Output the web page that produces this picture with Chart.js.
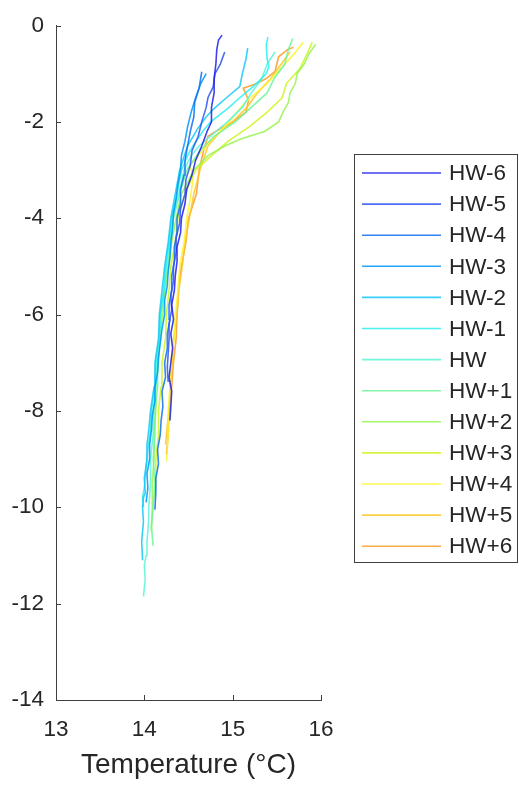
<!DOCTYPE html>
<html>
<head>
<meta charset="utf-8">
<script src="https://cdn.jsdelivr.net/npm/chart.js@4"></script>
<style>
  html, body { margin: 0; padding: 0; background: #ffffff; }
  #wrap { width: 519px; height: 785px; position: relative; }
</style>
</head>
<body>
<div id="wrap"><canvas id="grafica" width="519" height="785"></canvas></div>
<script>
// Etiquetas de las series (horas respecto a la pleamar)
const seriesLabels = ['HW-6', 'HW-5', 'HW-4', 'HW-3', 'HW-2', 'HW-1', 'HW',
  'HW+1', 'HW+2', 'HW+3', 'HW+4', 'HW+5', 'HW+6'];

// Ticks de los ejes
const xTicks = [13, 14, 15, 16];
const yTicks = [0, -2, -4, -6, -8, -10, -12, -14];

// Perfiles: profundidad (m) y temperatura (°C)
const depthHWm6 = [-8.2, -7.9, -7.6, -7.3, -7.0, -6.7, -6.4, -6.1, -5.8, -5.5, -5.2, -4.9, -4.6, -4.3, -4.0, -3.7, -3.4, -3.1, -2.8, -2.5, -2.2, -2.0, -1.7, -1.4, -1.1, -0.8, -0.5, -0.3, -0.2];
const tempHWm6  = [14.29, 14.30, 14.31, 14.28, 14.30, 14.32, 14.30, 14.33, 14.31, 14.34, 14.35, 14.37, 14.37, 14.41, 14.42, 14.46, 14.48, 14.54, 14.58, 14.65, 14.71, 14.76, 14.76, 14.79, 14.79, 14.81, 14.82, 14.84, 14.88];

const depthHWm5 = [-7.4, -7.1, -6.8, -6.5, -6.2, -5.9, -5.6, -5.3, -5.0, -4.7, -4.4, -4.1, -3.8, -3.5, -3.2, -2.9, -2.6, -2.3, -2.0, -1.7, -1.5, -1.27, -1.0, -0.8, -0.55];
const tempHWm5  = [14.27, 14.26, 14.27, 14.28, 14.28, 14.31, 14.30, 14.33, 14.33, 14.36, 14.36, 14.40, 14.41, 14.46, 14.47, 14.52, 14.54, 14.61, 14.65, 14.70, 14.72, 14.78, 14.80, 14.86, 14.91];

const depthHWm4 = [-10.05, -9.7, -9.4, -9.1, -8.8, -8.5, -8.2, -7.9, -7.6, -7.3, -7.0, -6.7, -6.4, -6.1, -5.8, -5.5, -5.2, -4.9, -4.6, -4.3, -4.0, -3.7, -3.4, -3.1, -2.8, -2.5, -2.2, -1.9, -1.6, -1.3, -0.96];
const tempHWm4  = [14.12, 14.13, 14.13, 14.16, 14.15, 14.18, 14.19, 14.21, 14.20, 14.24, 14.23, 14.26, 14.26, 14.29, 14.28, 14.31, 14.31, 14.34, 14.34, 14.37, 14.37, 14.41, 14.41, 14.45, 14.46, 14.49, 14.52, 14.56, 14.57, 14.62, 14.65];

const depthHWm3 = [-9.9, -9.6, -9.3, -9.0, -8.7, -8.4, -8.1, -7.8, -7.5, -7.2, -6.9, -6.6, -6.3, -6.0, -5.7, -5.4, -5.1, -4.8, -4.5, -4.2, -3.9, -3.6, -3.3, -3.0, -2.7, -2.4, -2.1, -1.8, -1.5, -1.2, -1.0];
const tempHWm3  = [14.02, 14.04, 14.03, 14.06, 14.06, 14.08, 14.09, 14.12, 14.12, 14.15, 14.16, 14.18, 14.20, 14.23, 14.23, 14.26, 14.27, 14.29, 14.30, 14.32, 14.33, 14.36, 14.38, 14.41, 14.42, 14.46, 14.49, 14.53, 14.58, 14.64, 14.70];

const depthHWm2 = [-11.1, -10.7, -10.3, -10.0, -9.8, -9.7, -9.4, -9.0, -8.7, -8.4, -8.0, -7.5, -7.0, -6.5, -6.0, -5.5, -5.0, -4.5, -4.0, -3.5, -3.0, -2.5, -2.15, -1.9, -1.74, -1.5, -1.27, -1.0, -0.7, -0.47];
const tempHWm2  = [13.98, 13.97, 13.99, 13.98, 13.99, 14.01, 14.00, 14.03, 14.03, 14.05, 14.07, 14.11, 14.12, 14.16, 14.17, 14.20, 14.23, 14.27, 14.30, 14.35, 14.40, 14.49, 14.60, 14.70, 14.78, 14.93, 15.08, 15.11, 15.15, 15.17];

const depthHWm1 = [-10.0, -9.8, -9.6, -9.2, -8.8, -8.4, -8.0, -7.5, -7.0, -6.5, -6.0, -5.5, -5.0, -4.5, -4.0, -3.5, -3.0, -2.7, -2.5, -2.2, -2.0, -1.7, -1.5, -1.3, -1.15, -1.0, -0.85, -0.7, -0.4, -0.24];
const tempHWm1  = [13.99, 13.98, 14.00, 14.02, 14.04, 14.07, 14.08, 14.12, 14.13, 14.17, 14.18, 14.22, 14.24, 14.28, 14.31, 14.37, 14.42, 14.49, 14.55, 14.66, 14.75, 14.96, 15.08, 15.21, 15.30, 15.38, 15.41, 15.39, 15.38, 15.40];

const depthHW = [-11.85, -11.5, -11.2, -11.0, -10.7, -10.5, -10.2, -10.0, -9.5, -9.0, -8.5, -8.0, -7.5, -7.0, -6.5, -6.0, -5.5, -5.0, -4.5, -4.0, -3.5, -3.0, -2.7, -2.5, -2.2, -2.0, -1.7, -1.4, -1.1, -0.8, -0.55];
const tempHW  = [13.99, 14.01, 14.00, 14.02, 14.03, 14.04, 14.05, 14.05, 14.07, 14.07, 14.10, 14.10, 14.13, 14.14, 14.17, 14.18, 14.22, 14.25, 14.29, 14.32, 14.39, 14.45, 14.53, 14.62, 14.81, 14.94, 15.11, 15.21, 15.33, 15.39, 15.48];

const depthHWp1 = [-10.8, -10.4, -10.0, -9.5, -9.0, -8.5, -8.0, -7.5, -7.0, -6.5, -6.0, -5.5, -5.0, -4.5, -4.0, -3.5, -3.0, -2.6, -2.3, -2.0, -1.7, -1.4, -1.1, -0.8, -0.5, -0.27];
const tempHWp1  = [14.10, 14.08, 14.10, 14.12, 14.10, 14.12, 14.12, 14.15, 14.15, 14.18, 14.19, 14.23, 14.26, 14.30, 14.33, 14.40, 14.48, 14.63, 14.79, 15.03, 15.21, 15.39, 15.47, 15.59, 15.63, 15.68];

const depthHWp2 = [-10.5, -10.0, -9.5, -9.0, -8.5, -8.0, -7.5, -7.0, -6.5, -6.0, -5.5, -5.0, -4.5, -4.0, -3.5, -3.0, -2.7, -2.5, -2.35, -2.2, -2.0, -1.8, -1.6, -1.4, -1.2, -1.0, -0.8, -0.6, -0.39];
const tempHWp2  = [14.08, 14.09, 14.09, 14.11, 14.11, 14.13, 14.13, 14.16, 14.17, 14.21, 14.23, 14.28, 14.31, 14.36, 14.42, 14.56, 14.72, 14.91, 15.10, 15.36, 15.52, 15.57, 15.63, 15.65, 15.71, 15.73, 15.81, 15.86, 15.94];

const depthHWp3 = [-9.8, -9.4, -9.0, -8.5, -8.0, -7.5, -7.0, -6.5, -6.0, -5.5, -5.0, -4.5, -4.0, -3.5, -3.0, -2.7, -2.4, -2.1, -1.8, -1.5, -1.2, -0.9, -0.6, -0.35];
const tempHWp3  = [14.12, 14.13, 14.13, 14.16, 14.16, 14.19, 14.20, 14.24, 14.25, 14.28, 14.30, 14.35, 14.38, 14.46, 14.58, 14.76, 14.95, 15.19, 15.39, 15.56, 15.61, 15.76, 15.84, 15.90];

const depthHWp4 = [-9.05, -8.5, -8.0, -7.5, -7.0, -6.5, -6.0, -5.5, -5.0, -4.5, -4.0, -3.6, -3.2, -2.9, -2.7, -2.4, -2.0, -1.6, -1.2, -0.9, -0.6, -0.35];
const tempHWp4  = [14.25, 14.27, 14.27, 14.29, 14.30, 14.34, 14.35, 14.38, 14.40, 14.45, 14.48, 14.52, 14.55, 14.52, 14.61, 14.75, 14.96, 15.14, 15.39, 15.54, 15.69, 15.80];

const depthHWp5 = [-8.7, -8.3, -8.0, -7.5, -7.0, -6.5, -6.0, -5.5, -5.0, -4.5, -4.0, -3.5, -3.0, -2.5, -2.2, -2.0, -1.7, -1.4, -1.1, -0.8, -0.55];
const tempHWp5  = [14.24, 14.26, 14.28, 14.29, 14.32, 14.33, 14.37, 14.39, 14.43, 14.46, 14.51, 14.56, 14.63, 14.72, 14.86, 15.00, 15.16, 15.28, 15.43, 15.55, 15.65];

const depthHWp6 = [-8.9, -8.5, -8.0, -7.5, -7.0, -6.5, -6.0, -5.4, -5.0, -4.5, -4.0, -3.5, -3.0, -2.6, -2.3, -2.15, -2.0, -1.8, -1.55, -1.3, -1.2, -1.1, -0.95, -0.65, -0.5, -0.45];
const tempHWp6  = [14.25, 14.27, 14.28, 14.31, 14.33, 14.36, 14.37, 14.39, 14.42, 14.47, 14.50, 14.59, 14.62, 14.67, 14.72, 14.85, 15.00, 15.15, 15.18, 15.12, 15.28, 15.38, 15.48, 15.52, 15.62, 15.69];

const allDepths = [depthHWm6, depthHWm5, depthHWm4, depthHWm3, depthHWm2, depthHWm1, depthHW,
  depthHWp1, depthHWp2, depthHWp3, depthHWp4, depthHWp5, depthHWp6];
const allTemps = [tempHWm6, tempHWm5, tempHWm4, tempHWm3, tempHWm2, tempHWm1, tempHW,
  tempHWp1, tempHWp2, tempHWp3, tempHWp4, tempHWp5, tempHWp6];

// colores tipo jet, de azul a naranja
const lineColors = [
  'rgba(30, 30, 235, 0.85)', 'rgba(45, 85, 240, 0.85)', 'rgba(15, 110, 245, 0.85)', 'rgba(0, 150, 248, 0.85)',
  'rgba(20, 200, 248, 0.85)', 'rgba(40, 240, 240, 0.85)', 'rgba(90, 245, 210, 0.85)', 'rgba(110, 245, 150, 0.85)',
  'rgba(150, 245, 80, 0.85)', 'rgba(205, 245, 30, 0.85)', 'rgba(250, 245, 50, 0.85)', 'rgba(250, 200, 40, 0.85)',
  'rgba(250, 155, 40, 0.85)'
];

const fuente = "'Liberation Sans', Arial, sans-serif";
const colorTexto = '#262626';

// construimos los datasets a partir de los arrays
const datasets = seriesLabels.map((label, i) => ({
  label: label,
  data: allDepths[i].map((d, k) => ({ x: allTemps[i][k], y: d })),
  borderColor: lineColors[i],
  borderWidth: 1.6,
  pointRadius: 0,
  showLine: true,
  fill: false,
  tension: 0
}));

// marcas de los ejes hacia dentro (estilo matlab)
const ticksHaciaDentro = {
  id: 'ticksHaciaDentro',
  afterDraw(chart) {
    const ctx = chart.ctx;
    const xs = chart.scales.x;
    const ys = chart.scales.y;
    const area = chart.chartArea;
    ctx.save();
    ctx.strokeStyle = '#404040';
    ctx.lineWidth = 1;
    ctx.beginPath();
    xTicks.forEach(v => {
      const px = Math.round(xs.getPixelForValue(v)) + 0.5;
      ctx.moveTo(px, area.bottom);
      ctx.lineTo(px, area.bottom - 5);
    });
    yTicks.forEach(v => {
      const py = Math.round(ys.getPixelForValue(v)) + 0.5;
      ctx.moveTo(area.left, py);
      ctx.lineTo(area.left + 5, py);
    });
    ctx.stroke();
    ctx.restore();
  }
};

// leyenda con caja a la derecha
const leyendaCaja = {
  id: 'leyendaCaja',
  afterDraw(chart) {
    const ctx = chart.ctx;
    ctx.save();
    ctx.fillStyle = '#ffffff';
    ctx.fillRect(354.5, 154.5, 163, 408);
    ctx.strokeStyle = '#404040';
    ctx.lineWidth = 1;
    ctx.strokeRect(354.5, 154.5, 163, 408);
    ctx.font = '22.5px ' + fuente;
    ctx.textBaseline = 'middle';
    ctx.textAlign = 'left';
    chart.data.datasets.forEach((ds, i) => {
      const y = 173 + i * 31.1;
      ctx.strokeStyle = ds.borderColor;
      ctx.lineWidth = 1.6;
      ctx.beginPath();
      ctx.moveTo(362, y);
      ctx.lineTo(441, y);
      ctx.stroke();
      ctx.fillStyle = colorTexto;
      ctx.fillText(ds.label, 449, y + 1);
    });
    ctx.restore();
  }
};

new Chart(document.getElementById('grafica'), {
  type: 'scatter',
  data: { datasets: datasets },
  options: {
    responsive: false,
    animation: false,
    layout: { padding: { top: 15, right: 198, bottom: 0, left: 0 } },
    plugins: {
      legend: { display: false },
      tooltip: { enabled: false }
    },
    scales: {
      x: {
        type: 'linear',
        min: 13,
        max: 16,
        afterFit: s => { s.height = 85; },
        afterBuildTicks: s => { s.ticks = xTicks.map(v => ({ value: v })); },
        grid: { display: false, drawTicks: false },
        border: { display: true, color: '#404040', width: 1 },
        ticks: { color: colorTexto, font: { family: fuente, size: 22.5 }, padding: 16 },
        title: {
          display: true,
          text: 'Temperature (°C)',
          color: colorTexto,
          font: { family: fuente, size: 28 },
          padding: { top: 4, bottom: 3 }
        }
      },
      y: {
        type: 'linear',
        min: -14,
        max: 0,
        afterFit: s => { s.width = 56; },
        afterBuildTicks: s => { s.ticks = yTicks.map(v => ({ value: v })); },
        grid: { display: false, drawTicks: false },
        border: { display: true, color: '#404040', width: 1 },
        ticks: { color: colorTexto, font: { family: fuente, size: 22.5 }, padding: 12 }
      }
    }
  },
  plugins: [ticksHaciaDentro, leyendaCaja]
});
</script>
</body>
</html>
